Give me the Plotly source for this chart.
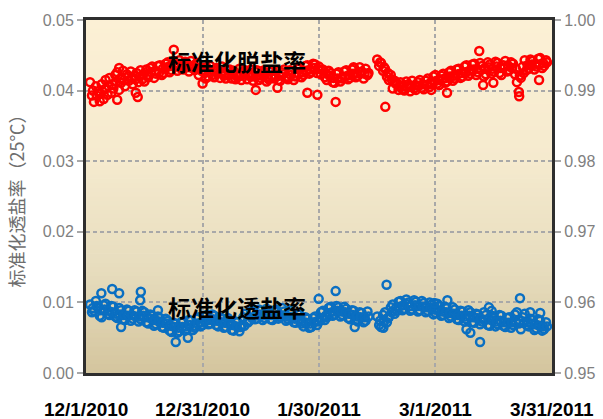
import pandas as pd
import plotly.graph_objects as go

# ---- normalized salt rejection (right axis) ----
# run 1: 12/2/2010 .. 2/11/2011, run 2: 2/14/2011 .. 3/29/2011
run1_start = "2010-12-02"
run2_start = "2011-02-14"

# readings at 00:00 and 12:00
rej_run1 = [
    0.9912, 0.9893, 0.9884, 0.9906, 0.9899, 0.9885, 0.9909, 0.9888, 0.9915, 0.9894, 0.9918, 0.9897,
    0.9903, 0.9922, 0.9926, 0.9901, 0.9911, 0.9928, 0.9906, 0.9923, 0.9914, 0.9927, 0.9909, 0.9921,
    0.9925, 0.9912, 0.9929, 0.9916, 0.9913, 0.9930, 0.9919, 0.9932, 0.9934, 0.9918, 0.9924, 0.9935,
    0.9936, 0.9922, 0.9925, 0.9938, 0.9940, 0.9926, 0.9929, 0.9942, 0.9937, 0.9928, 0.9943, 0.9931,
    0.9930, 0.9941, 0.9938, 0.9927, 0.9942, 0.9932, 0.9929, 0.9939, 0.9922, 0.9933, 0.9910, 0.9925,
    0.9933, 0.9920, 0.9935, 0.9922, 0.9919, 0.9932, 0.9930, 0.9918, 0.9934, 0.9921, 0.9917, 0.9929,
    0.9930, 0.9917, 0.9928, 0.9916, 0.9919, 0.9931, 0.9915, 0.9927, 0.9929, 0.9916, 0.9921, 0.9930,
    0.9914, 0.9927, 0.9929, 0.9915, 0.9918, 0.9928, 0.9926, 0.9913, 0.9916, 0.9927, 0.9929, 0.9917,
    0.9928, 0.9915, 0.9914, 0.9926, 0.9930, 0.9918, 0.9916, 0.9929, 0.9927, 0.9915, 0.9920, 0.9931,
    0.9932, 0.9919, 0.9922, 0.9935, 0.9936, 0.9924, 0.9926, 0.9938, 0.9937, 0.9925, 0.9934, 0.9923,
    0.9930, 0.9919, 0.9915, 0.9928, 0.9925, 0.9912, 0.9911, 0.9924, 0.9926, 0.9913, 0.9917, 0.9927,
    0.9929, 0.9916, 0.9918, 0.9930, 0.9932, 0.9919, 0.9921, 0.9933, 0.9927, 0.9917, 0.9931, 0.9922,
]
rej_run2 = [
    0.9944, 0.9935, 0.9939, 0.9928, 0.9931, 0.9920, 0.9915, 0.9922, 0.9903, 0.9914, 0.9911, 0.9901,
    0.9912, 0.9902, 0.9900, 0.9913, 0.9909, 0.9899, 0.9914, 0.9903, 0.9901, 0.9912, 0.9915, 0.9904,
    0.9902, 0.9914, 0.9917, 0.9905, 0.9909, 0.9920, 0.9922, 0.9910, 0.9908, 0.9921, 0.9924, 0.9911,
    0.9913, 0.9926, 0.9928, 0.9914, 0.9917, 0.9930, 0.9931, 0.9918, 0.9920, 0.9934, 0.9936, 0.9921,
    0.9924, 0.9937, 0.9938, 0.9922, 0.9926, 0.9939, 0.9935, 0.9920, 0.9923, 0.9940, 0.9937, 0.9924,
    0.9927, 0.9941, 0.9939, 0.9925, 0.9922, 0.9936, 0.9942, 0.9927, 0.9929, 0.9940, 0.9938, 0.9923,
    0.9912, 0.9898, 0.9918, 0.9934, 0.9943, 0.9929, 0.9931, 0.9944, 0.9942, 0.9930, 0.9934, 0.9945,
    0.9946, 0.9932, 0.9935, 0.9943,
]
# readings at 18:00
rej_run1_eve = [
    0.9900, 0.9893, 0.9896, 0.9902, 0.9906, 0.9909, 0.9913, 0.9917, 0.9915, 0.9920, 0.9918, 0.9916,
    0.9920, 0.9923, 0.9922, 0.9926, 0.9928, 0.9925, 0.9931, 0.9933, 0.9935, 0.9937, 0.9934, 0.9936,
    0.9935, 0.9933, 0.9936, 0.9931, 0.9928, 0.9917, 0.9927, 0.9929, 0.9925, 0.9926, 0.9924, 0.9923,
    0.9924, 0.9922, 0.9921, 0.9925, 0.9923, 0.9920, 0.9921, 0.9922, 0.9920, 0.9919, 0.9921, 0.9920,
    0.9921, 0.9923, 0.9920, 0.9922, 0.9921, 0.9924, 0.9926, 0.9928, 0.9930, 0.9932, 0.9931, 0.9929,
    0.9925, 0.9921, 0.9918, 0.9917, 0.9918, 0.9920, 0.9922, 0.9924, 0.9925, 0.9926, 0.9924, 0.9925,
]
rej_run2_eve = [
    0.9940, 0.9933, 0.9925, 0.9916, 0.9910, 0.9906, 0.9907, 0.9905, 0.9906, 0.9908, 0.9907, 0.9909,
    0.9908, 0.9911, 0.9913, 0.9915, 0.9916, 0.9918, 0.9920, 0.9921, 0.9923, 0.9925, 0.9926, 0.9928,
    0.9930, 0.9931, 0.9929, 0.9932, 0.9933, 0.9931, 0.9934, 0.9932, 0.9933, 0.9935, 0.9932, 0.9931,
    0.9921, 0.9925, 0.9936, 0.9937, 0.9938, 0.9937, 0.9939, 0.9940,
]
rej_extra_t = [
    "2010-12-09 00:00", "2010-12-09 12:00", "2010-12-13 19:00", "2010-12-14 07:00",
    "2010-12-23 14:00", "2011-01-13 17:00", "2011-01-19 07:00", "2011-01-27 00:00",
    "2011-01-29 14:00", "2011-02-03 07:00", "2011-02-07 22:00", "2011-02-16 02:00",
    "2011-02-27 22:00", "2011-03-04 00:00", "2011-03-12 07:00", "2011-03-13 07:00",
    "2011-03-15 22:00", "2011-03-22 14:00", "2011-03-27 17:00",
]
rej_extra = [
    0.9887, 0.9932, 0.9897, 0.9891,
    0.9958, 0.9901, 0.9904, 0.9897,
    0.9894, 0.9884, 0.9933, 0.9877,
    0.9901, 0.9897, 0.9956, 0.9908,
    0.9911, 0.9892, 0.9915,
]

# ---- normalized salt passage (left axis) ----
# readings at 00:00 and 12:00
pas_run1 = [
    0.0097, 0.0086, 0.0088, 0.0102, 0.0093, 0.0081, 0.0079, 0.0096, 0.0098, 0.0084, 0.0082, 0.0095,
    0.0094, 0.0080, 0.0078, 0.0092, 0.0089, 0.0076, 0.0075, 0.0090, 0.0088, 0.0074, 0.0077, 0.0089,
    0.0087, 0.0073, 0.0076, 0.0088, 0.0086, 0.0072, 0.0070, 0.0083, 0.0081, 0.0067, 0.0069, 0.0080,
    0.0078, 0.0065, 0.0064, 0.0077, 0.0074, 0.0060, 0.0058, 0.0071, 0.0070, 0.0057, 0.0059, 0.0072,
    0.0073, 0.0060, 0.0062, 0.0075, 0.0074, 0.0061, 0.0064, 0.0077, 0.0079, 0.0066, 0.0068, 0.0080,
    0.0082, 0.0069, 0.0070, 0.0083, 0.0081, 0.0068, 0.0066, 0.0079, 0.0077, 0.0064, 0.0065, 0.0078,
    0.0074, 0.0061, 0.0060, 0.0073, 0.0072, 0.0059, 0.0066, 0.0079, 0.0084, 0.0072, 0.0074, 0.0087,
    0.0089, 0.0076, 0.0077, 0.0090, 0.0088, 0.0075, 0.0078, 0.0091, 0.0089, 0.0076, 0.0075, 0.0088,
    0.0090, 0.0077, 0.0079, 0.0092, 0.0087, 0.0074, 0.0076, 0.0089, 0.0085, 0.0072, 0.0071, 0.0084,
    0.0083, 0.0070, 0.0066, 0.0079, 0.0077, 0.0064, 0.0065, 0.0078, 0.0080, 0.0068, 0.0073, 0.0086,
    0.0088, 0.0075, 0.0079, 0.0092, 0.0094, 0.0081, 0.0083, 0.0095, 0.0093, 0.0080, 0.0082, 0.0094,
    0.0091, 0.0078, 0.0076, 0.0089, 0.0088, 0.0075, 0.0073, 0.0086, 0.0085, 0.0072, 0.0074, 0.0087,
]
pas_run2 = [
    0.0080, 0.0068, 0.0065, 0.0082, 0.0086, 0.0072, 0.0079, 0.0093, 0.0097, 0.0084, 0.0088, 0.0101,
    0.0102, 0.0089, 0.0091, 0.0104, 0.0100, 0.0088, 0.0090, 0.0103, 0.0101, 0.0087, 0.0089, 0.0102,
    0.0099, 0.0086, 0.0088, 0.0100, 0.0097, 0.0083, 0.0085, 0.0098, 0.0095, 0.0081, 0.0082, 0.0094,
    0.0092, 0.0078, 0.0080, 0.0093, 0.0090, 0.0076, 0.0075, 0.0088, 0.0087, 0.0073, 0.0076, 0.0089,
    0.0086, 0.0072, 0.0071, 0.0084, 0.0083, 0.0069, 0.0073, 0.0086, 0.0082, 0.0068, 0.0067, 0.0081,
    0.0080, 0.0066, 0.0069, 0.0082, 0.0081, 0.0067, 0.0065, 0.0078, 0.0079, 0.0064, 0.0068, 0.0083,
    0.0086, 0.0070, 0.0062, 0.0079, 0.0084, 0.0068, 0.0066, 0.0077, 0.0075, 0.0061, 0.0063, 0.0076,
    0.0074, 0.0060, 0.0062, 0.0072,
]
# readings at 18:00
pas_run1_eve = [
    0.0092, 0.0095, 0.0089, 0.0090, 0.0088, 0.0086, 0.0084, 0.0083, 0.0082, 0.0081, 0.0082, 0.0080,
    0.0080, 0.0081, 0.0079, 0.0077, 0.0075, 0.0073, 0.0071, 0.0070, 0.0067, 0.0065, 0.0064, 0.0065,
    0.0066, 0.0068, 0.0067, 0.0070, 0.0072, 0.0074, 0.0075, 0.0076, 0.0074, 0.0072, 0.0071, 0.0070,
    0.0068, 0.0066, 0.0065, 0.0067, 0.0072, 0.0078, 0.0082, 0.0083, 0.0082, 0.0084, 0.0082, 0.0081,
    0.0083, 0.0081, 0.0080, 0.0079, 0.0077, 0.0076, 0.0073, 0.0071, 0.0070, 0.0072, 0.0074, 0.0077,
    0.0081, 0.0085, 0.0087, 0.0088, 0.0087, 0.0086, 0.0084, 0.0082, 0.0080, 0.0079, 0.0079, 0.0080,
]
pas_run2_eve = [
    0.0074, 0.0073, 0.0078, 0.0086, 0.0091, 0.0094, 0.0096, 0.0097, 0.0095, 0.0096, 0.0095, 0.0094,
    0.0093, 0.0092, 0.0090, 0.0089, 0.0087, 0.0086, 0.0085, 0.0084, 0.0082, 0.0081, 0.0080, 0.0081,
    0.0079, 0.0078, 0.0077, 0.0075, 0.0076, 0.0074, 0.0073, 0.0074, 0.0072, 0.0071, 0.0072, 0.0073,
    0.0074, 0.0071, 0.0072, 0.0070, 0.0069, 0.0067, 0.0066, 0.0066,
]
pas_extra_t = [
    "2010-12-04 22:00", "2010-12-07 17:00", "2010-12-09 12:00", "2010-12-15 02:00",
    "2010-12-14 22:00", "2010-12-10 00:00", "2010-12-19 12:00", "2010-12-24 02:00",
    "2010-12-27 05:00", "2011-01-29 22:00", "2011-02-03 07:00", "2011-02-08 05:00",
    "2011-02-16 10:00", "2011-02-15 14:00", "2011-03-04 02:00", "2011-02-28 18:00",
    "2011-03-12 12:00", "2011-03-22 19:00", "2011-03-28 00:00", "2011-03-25 10:00",
    "2011-03-10 00:00", "2011-03-09 00:00", "2011-03-14 19:00", "2011-03-15 12:00",
]
pas_extra = [
    0.0113, 0.0119, 0.0113, 0.0115,
    0.0103, 0.0065, 0.0089, 0.0044,
    0.0050, 0.0105, 0.0116, 0.0065,
    0.0125, 0.0064, 0.0103, 0.0099,
    0.0044, 0.0106, 0.0085, 0.0086,
    0.0057, 0.0062, 0.0093, 0.0088,
]

# axis ticks
tick_dates = ["2010-12-01", "2010-12-31", "2011-01-30", "2011-03-01", "2011-03-31"]
tick_text = ["12/1/2010", "12/31/2010", "1/30/2011", "3/1/2011", "3/31/2011"]

rej_label = "标准化脱盐率"
pas_label = "标准化透盐率"
y_title = "标准化透盐率（25℃）"

# time stamps of the readings
t_half = (list(pd.date_range(run1_start, periods=len(rej_run1), freq="12h"))
          + list(pd.date_range(run2_start, periods=len(rej_run2), freq="12h")))
t_eve = (list(pd.date_range(run1_start + " 18:00", periods=len(rej_run1_eve), freq="D"))
         + list(pd.date_range(run2_start + " 18:00", periods=len(rej_run2_eve), freq="D")))

rej_t = t_half + t_eve + list(pd.to_datetime(rej_extra_t))
rej_v = rej_run1 + rej_run2 + rej_run1_eve + rej_run2_eve + rej_extra
pas_t = t_half + t_eve + list(pd.to_datetime(pas_extra_t))
pas_v = pas_run1 + pas_run2 + pas_run1_eve + pas_run2_eve + pas_extra

RED = "#FF0000"
BLUE = "#0A6FC2"
GRID = "#A8A8A8"
TICKGRAY = "#808080"
FRAME = "#2E2E2E"

fig = go.Figure()
fig.add_trace(go.Scatter(
    x=rej_t, y=rej_v, yaxis="y2", mode="markers", name=rej_label,
    marker=dict(symbol="circle-open", size=8, color=RED, line=dict(width=2.5)),
))
fig.add_trace(go.Scatter(
    x=pas_t, y=pas_v, mode="markers", name=pas_label,
    marker=dict(symbol="circle-open", size=8, color=BLUE, line=dict(width=2.5)),
))

# vertical cream-to-tan gradient behind the plot area
stops = [(0.0, (212, 197, 158)), (0.3, (231, 221, 190)),
         (0.6, (245, 234, 206)), (1.0, (252, 240, 213))]


def blend(f):
    for (f0, c0), (f1, c1) in zip(stops[:-1], stops[1:]):
        if f0 <= f <= f1:
            w = (f - f0) / (f1 - f0)
            return "rgb(%d,%d,%d)" % tuple(round(a + (b - a) * w) for a, b in zip(c0, c1))
    return "rgb(%d,%d,%d)" % stops[-1][1]


n_strips = 80
shapes = []
for i in range(n_strips):
    y0 = i / n_strips
    y1 = (i + 1) / n_strips + 0.002
    shapes.append(dict(type="rect", xref="paper", yref="paper", x0=0, x1=1,
                       y0=y0, y1=min(y1, 1), line=dict(width=0),
                       fillcolor=blend((i + 0.5) / n_strips), layer="below"))

label_font = dict(family="Noto Sans CJK SC", size=23, color="black", weight="bold")
annotations = [
    dict(text=rej_label, xref="paper", yref="paper", x=0.325, y=0.885,
         xanchor="center", yanchor="middle", showarrow=False, font=label_font),
    dict(text=pas_label, xref="paper", yref="paper", x=0.325, y=0.188,
         xanchor="center", yanchor="middle", showarrow=False, font=label_font),
]

fig.update_layout(
    width=603, height=419,
    margin=dict(l=86, r=51, t=20, b=46, autoexpand=False),
    paper_bgcolor="white", plot_bgcolor="rgb(252,240,213)",
    showlegend=False,
    shapes=shapes, annotations=annotations,
    xaxis=dict(
        type="date", range=["2010-11-30 23:00", "2011-03-31 01:00"],
        tickvals=tick_dates, ticktext=tick_text,
        tickfont=dict(family="Liberation Sans", size=19, color="black", weight="bold"),
        ticks="", ticklabelstandoff=17,
        showgrid=True, gridcolor=GRID, griddash="4px,3px", gridwidth=1.5,
        showline=True, linecolor=FRAME, linewidth=3, mirror=True,
        zeroline=False,
    ),
    yaxis=dict(
        range=[0, 0.05], dtick=0.01, tickformat=".2f",
        tickfont=dict(family="Liberation Sans", size=16, color=TICKGRAY),
        ticks="outside", ticklen=6, tickcolor=GRID, tickwidth=1.5,
        showgrid=True, gridcolor=GRID, griddash="4px,3px", gridwidth=1.5,
        showline=True, linecolor=FRAME, linewidth=3, mirror=True,
        zeroline=False,
        title=dict(text=y_title, standoff=14,
                   font=dict(family="Noto Sans CJK SC", size=18, color="#6E6E6E")),
    ),
    yaxis2=dict(
        overlaying="y", side="right",
        range=[0.95, 1.0], dtick=0.01, tickformat=".2f",
        tickfont=dict(family="Liberation Sans", size=16, color=TICKGRAY),
        ticks="outside", ticklen=6, tickcolor=GRID, tickwidth=1.5,
        showgrid=False, showline=True, linecolor=FRAME, linewidth=3,
        zeroline=False,
    ),
)

fig.write_html("out.html")
